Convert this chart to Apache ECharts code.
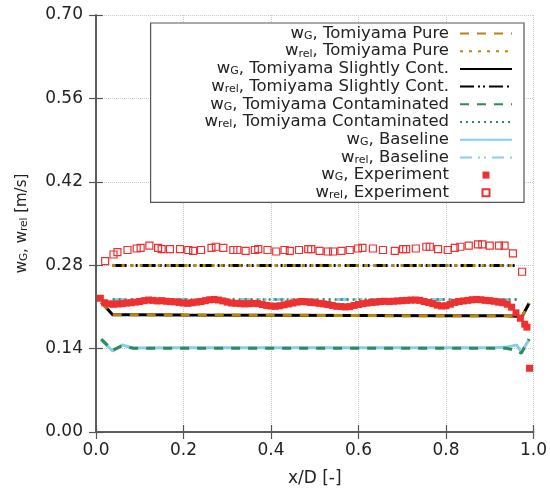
<!DOCTYPE html>
<html>
<head>
<meta charset="utf-8">
<script src="https://cdn.jsdelivr.net/npm/echarts@6/dist/echarts.min.js"></script>
<style>
  html, body { margin: 0; padding: 0; background: #fff; }
  #chart { width: 550px; height: 493px; }
</style>
</head>
<body>
<div id="chart"></div>
<script>
// Axis ticks
const xTickInterval = 0.2;
const yTickInterval = 0.14;
const xRange = [0, 1];
const yRange = [0, 0.70];

// Model profiles (shared x/D positions)
const modelX     = [0.012, 0.038, 0.060, 0.085, 0.200, 0.400, 0.600, 0.800, 0.910, 0.938, 0.962, 0.972, 0.990];
const wGPure     = [0.218, 0.197, 0.197, 0.197, 0.1965, 0.196, 0.1955, 0.195, 0.195, 0.195, 0.1945, 0.191, 0.216];
const wRelPure   = [null, 0.2795, 0.2795, 0.2795, 0.2795, 0.2795, 0.2795, 0.2795, 0.2795, 0.2795, 0.2795, null, null];
const wGSlight   = [0.218, 0.197, 0.197, 0.197, 0.1965, 0.196, 0.1955, 0.195, 0.195, 0.195, 0.1945, 0.191, 0.216];
const wRelSlight = [null, 0.2795, 0.2795, 0.2795, 0.2795, 0.2795, 0.2795, 0.2795, 0.2795, 0.2795, 0.2795, null, null];
const wGCont     = [0.156, 0.137, 0.145, 0.1405, 0.1405, 0.1405, 0.1405, 0.1405, 0.1405, 0.1405, 0.137, 0.132, 0.156];
const wRelCont   = [null, 0.2225, 0.2225, 0.2225, 0.2225, 0.2225, 0.2225, 0.2225, 0.2225, 0.2225, 0.2225, null, null];
const wGBase     = [0.154, 0.136, 0.146, 0.141, 0.1415, 0.1415, 0.1415, 0.1415, 0.1415, 0.1425, 0.146, 0.134, 0.155];
const wRelBase   = [null, 0.2225, 0.2225, 0.2225, 0.2225, 0.2225, 0.2225, 0.2225, 0.2225, 0.2225, 0.2225, null, null];

// Measured gas velocity
const expGX = [0.01, 0.02, 0.03, 0.04, 0.05, 0.06, 0.07, 0.08, 0.09, 0.10,
               0.11, 0.12, 0.13, 0.14, 0.15, 0.16, 0.17, 0.18, 0.19, 0.20,
               0.21, 0.22, 0.23, 0.24, 0.25, 0.26, 0.27, 0.28, 0.29, 0.30,
               0.31, 0.32, 0.33, 0.34, 0.35, 0.36, 0.37, 0.38, 0.39, 0.40,
               0.41, 0.42, 0.43, 0.44, 0.45, 0.46, 0.47, 0.48, 0.49, 0.50,
               0.51, 0.52, 0.53, 0.54, 0.55, 0.56, 0.57, 0.58, 0.59, 0.60,
               0.61, 0.62, 0.63, 0.64, 0.65, 0.66, 0.67, 0.68, 0.69, 0.70,
               0.71, 0.72, 0.73, 0.74, 0.75, 0.76, 0.77, 0.78, 0.79, 0.80,
               0.81, 0.82, 0.83, 0.84, 0.85, 0.86, 0.87, 0.88, 0.89, 0.90,
               0.91, 0.92, 0.93, 0.94, 0.95, 0.96, 0.97, 0.98, 0.985, 0.991];
const expGY = [0.2245, 0.217, 0.215, 0.2145, 0.215, 0.2155, 0.2165, 0.217, 0.218, 0.219,
               0.2205, 0.2215, 0.221, 0.220, 0.2205, 0.2195, 0.219, 0.2185, 0.2175, 0.2165,
               0.216, 0.217, 0.218, 0.219, 0.2205, 0.222, 0.2225, 0.2215, 0.220, 0.218,
               0.2165, 0.216, 0.2155, 0.215, 0.2155, 0.216, 0.2155, 0.214, 0.2125, 0.2115,
               0.211, 0.212, 0.2135, 0.215, 0.2165, 0.218, 0.219, 0.2185, 0.2175, 0.217,
               0.216, 0.215, 0.214, 0.2125, 0.211, 0.2105, 0.210, 0.2105, 0.2125, 0.214,
               0.2155, 0.2165, 0.2175, 0.218, 0.219, 0.2195, 0.219, 0.2195, 0.220, 0.2205,
               0.221, 0.2215, 0.2215, 0.221, 0.219, 0.2175, 0.2155, 0.213, 0.2115, 0.212,
               0.2145, 0.2175, 0.219, 0.220, 0.221, 0.222, 0.2225, 0.222, 0.221, 0.2205,
               0.2195, 0.218, 0.217, 0.2145, 0.2095, 0.200, 0.191, 0.181, 0.176, 0.107];

// Measured relative velocity
const expRelX = [0.021, 0.040, 0.049, 0.072, 0.093, 0.102, 0.122, 0.142, 0.150, 0.169,
                 0.192, 0.211, 0.222, 0.240, 0.264, 0.274, 0.291, 0.314, 0.323, 0.342,
                 0.363, 0.371, 0.392, 0.412, 0.431, 0.443, 0.464, 0.485, 0.492, 0.511,
                 0.530, 0.542, 0.561, 0.580, 0.599, 0.609, 0.633, 0.656, 0.683, 0.702,
                 0.709, 0.731, 0.755, 0.763, 0.782, 0.804, 0.820, 0.833, 0.852, 0.873,
                 0.883, 0.900, 0.921, 0.934, 0.953, 0.974];
const expRelY = [0.287, 0.298, 0.302, 0.3055, 0.308, 0.309, 0.313, 0.309, 0.307, 0.307,
                 0.307, 0.3055, 0.304, 0.3055, 0.309, 0.311, 0.309, 0.3055, 0.3055, 0.304,
                 0.3055, 0.307, 0.3055, 0.303, 0.3055, 0.304, 0.3055, 0.307, 0.307, 0.304,
                 0.303, 0.303, 0.304, 0.3055, 0.308, 0.309, 0.308, 0.3055, 0.304, 0.307,
                 0.307, 0.308, 0.311, 0.311, 0.307, 0.3055, 0.309, 0.311, 0.313, 0.315,
                 0.315, 0.313, 0.313, 0.313, 0.300, 0.269];

const FONT = 'DejaVu Sans';
const TEXT = '#222';
const AXIS = '#555';
const GOLD = '#b8860b';
const BLACK = '#000000';
const GREEN = '#2e8b57';
const SKY = '#87ceeb';
const RED = '#ee3030';

const names = {
  gPure: 'w_G, Tomiyama Pure',
  rPure: 'w_rel, Tomiyama Pure',
  gSlight: 'w_G, Tomiyama Slightly Cont.',
  rSlight: 'w_rel, Tomiyama Slightly Cont.',
  gCont: 'w_G, Tomiyama Contaminated',
  rCont: 'w_rel, Tomiyama Contaminated',
  gBase: 'w_G, Baseline',
  rBase: 'w_rel, Baseline',
  gExp: 'w_G, Experiment',
  rExp: 'w_rel, Experiment'
};

// Legend key for point series: a small square centred in the key box
// (the leading moves stretch the path bounds to the full key size).
const SQUARE_KEY = 'path://M0,0M52,8M22.5,0.5h7v7h-7z';

function pairs(xs, ys) {
  return xs.map((x, i) => [x, ys[i]]).filter(p => p[1] !== null);
}

function lineSeries(name, xs, ys, color, width, dash, z) {
  return {
    name: name, type: 'line', data: pairs(xs, ys),
    symbol: 'none', z: z, silent: true,
    lineStyle: { color: color, width: width, type: dash, cap: 'butt' },
    itemStyle: { color: color }
  };
}

const richText = {
  m: { fontFamily: FONT, fontSize: 16.5, color: TEXT, lineHeight: 16 },
  s: { fontFamily: FONT, fontSize: 11, color: TEXT, lineHeight: 9, verticalAlign: 'bottom' }
};

function subLabel(name) {
  return name.replace(/^w_(\w+), (.*)$/, '{m|w}{s|$1}{m|, $2}');
}

const lineKey = name => ({ name: name, itemStyle: { opacity: 0 } });
const pointKey = name => ({ name: name, icon: SQUARE_KEY });

const chart = echarts.init(document.getElementById('chart'), null, { renderer: 'canvas' });

chart.setOption({
  animation: false,
  backgroundColor: '#fff',
  grid: { left: 96, right: 16, top: 15, bottom: 61 },
  xAxis: [{
    type: 'value', min: xRange[0], max: xRange[1], interval: xTickInterval,
    name: 'x/D [-]', nameLocation: 'middle', nameGap: 38,
    nameTextStyle: { fontFamily: FONT, fontSize: 17, color: TEXT },
    axisLine: { lineStyle: { color: AXIS, width: 1.5 } },
    axisTick: { inside: true, length: 7, lineStyle: { color: AXIS, width: 1.2 } },
    axisLabel: { fontFamily: FONT, fontSize: 17, color: TEXT, margin: 10,
                 formatter: v => v.toFixed(1) },
    splitLine: { show: true, lineStyle: { color: '#c8c8c8', type: 'dotted', width: 1 } }
  }, {
    type: 'value', position: 'top', min: xRange[0], max: xRange[1], interval: xTickInterval,
    axisLine: { lineStyle: { color: AXIS, width: 1.5 } },
    axisTick: { inside: true, length: 7, lineStyle: { color: AXIS, width: 1.2 } },
    axisLabel: { show: false }, splitLine: { show: false }
  }],
  yAxis: [{
    type: 'value', min: yRange[0], max: yRange[1], interval: yTickInterval,
    name: '{m|w}{s|G}{m|, w}{s|rel}{m| [m/s]}', nameLocation: 'middle', nameGap: 66,
    nameTextStyle: { rich: {
      m: { fontFamily: FONT, fontSize: 15, color: TEXT, lineHeight: 15 },
      s: { fontFamily: FONT, fontSize: 10.5, color: TEXT, lineHeight: 8, verticalAlign: 'bottom' }
    } },
    axisLine: { lineStyle: { color: AXIS, width: 1.5 } },
    axisTick: { inside: true, length: 7, lineStyle: { color: AXIS, width: 1.2 } },
    axisLabel: { fontFamily: FONT, fontSize: 17, color: TEXT, margin: 13,
                 formatter: v => v.toFixed(2) },
    splitLine: { show: true, lineStyle: { color: '#c8c8c8', type: 'dotted', width: 1 } }
  }, {
    type: 'value', position: 'right', min: yRange[0], max: yRange[1], interval: yTickInterval,
    axisLine: { show: true, lineStyle: { color: AXIS, width: 1.5 } },
    axisTick: { show: true, inside: true, length: 7, lineStyle: { color: AXIS, width: 1.2 } },
    axisLabel: { show: false }, splitLine: { show: false }
  }],
  legend: {
    orient: 'vertical', right: 26, top: 23, align: 'right',
    itemWidth: 52, itemHeight: 8, itemGap: 0.7,
    padding: [2, 11, 1, 54],
    backgroundColor: '#fff', borderColor: AXIS, borderWidth: 1.2,
    selectedMode: false,
    data: [lineKey(names.gPure), lineKey(names.rPure), lineKey(names.gSlight),
           lineKey(names.rSlight), lineKey(names.gCont), lineKey(names.rCont),
           lineKey(names.gBase), lineKey(names.rBase),
           pointKey(names.gExp), pointKey(names.rExp)],
    formatter: subLabel,
    textStyle: { fontFamily: FONT, fontSize: 16.5, color: TEXT, padding: [0, 6, 0, 0], rich: richText }
  },
  series: [
    lineSeries(names.gSlight, modelX, wGSlight, BLACK, 3, 'solid', 2),
    lineSeries(names.gPure, modelX, wGPure, GOLD, 3, [9, 8], 2),
    lineSeries(names.rSlight, modelX, wRelSlight, BLACK, 3, [14, 4, 2, 3, 2, 4], 2),
    lineSeries(names.rPure, modelX, wRelPure, GOLD, 3, [3, 6], 2),
    lineSeries(names.gBase, modelX, wGBase, SKY, 3, 'solid', 2),
    lineSeries(names.gCont, modelX, wGCont, GREEN, 3, [9, 8], 2),
    lineSeries(names.rBase, modelX, wRelBase, SKY, 3, [12, 6, 2, 4, 2, 6], 2),
    lineSeries(names.rCont, modelX, wRelCont, GREEN, 2.5, [2, 4], 2),
    {
      name: names.gExp, type: 'scatter', data: pairs(expGX, expGY), z: 3, silent: true,
      symbol: 'rect', symbolSize: 7,
      itemStyle: { color: RED, opacity: 1 }
    },
    {
      name: names.rExp, type: 'scatter', data: pairs(expRelX, expRelY), z: 3, silent: true,
      symbol: 'rect', symbolSize: 7,
      itemStyle: { color: 'rgba(255,255,255,0)', borderColor: RED, borderWidth: 1.2, opacity: 1 }
    }
  ]
});
</script>
</body>
</html>
